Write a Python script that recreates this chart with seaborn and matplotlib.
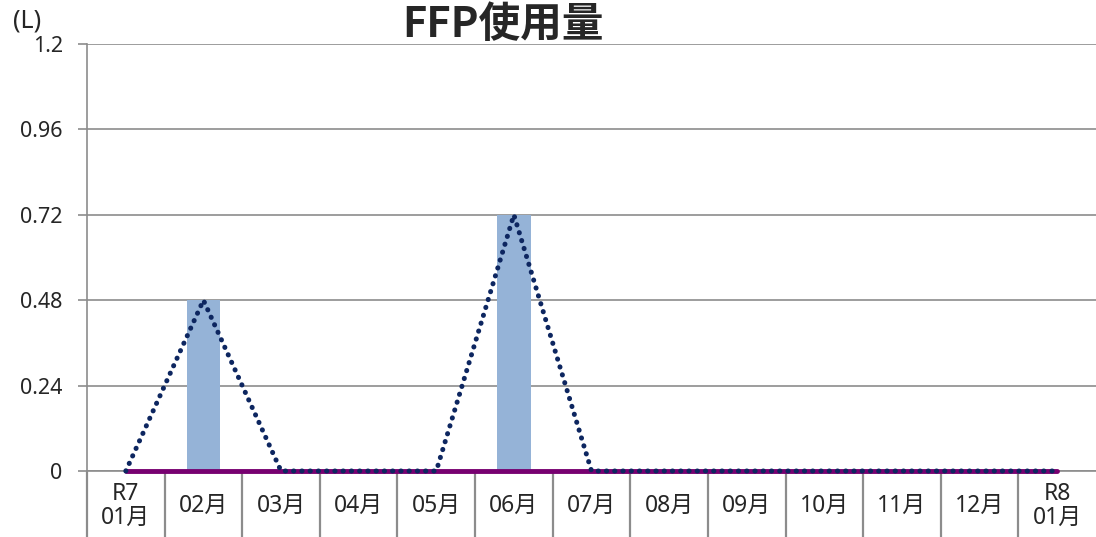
"""
FFP使用量 chart (bar + dotted trend line + zero line)
"""

import matplotlib
matplotlib.use("Agg")
import matplotlib.pyplot as plt
import seaborn as sns
import pandas as pd
import numpy as np

# Data
months = ["R7\n01月", "02月", "03月", "04月", "05月", "06月", "07月",
          "08月", "09月", "10月", "11月", "12月", "R8\n01月"]
usage = [0, 0.48, 0, 0, 0, 0.72, 0, 0, 0, 0, 0, 0, 0]
waste = [0, 0, 0, 0, 0, 0, 0, 0, 0, 0, 0, 0, 0]
yticks = [0, 0.24, 0.48, 0.72, 0.96, 1.2]
ytick_labels = ["0", "0.24", "0.48", "0.72", "0.96", "1.2"]

sns.set_style("white")
plt.rcParams['font.family'] = ['Noto Sans', 'Noto Sans CJK JP', 'DejaVu Sans']
plt.rcParams['font.size'] = 15.5

df = pd.DataFrame({'month': months, 'usage': usage, 'waste': waste})
df['pos'] = np.arange(len(df))

fig = plt.figure(figsize=(10.96, 5.37), dpi=100)
ax = fig.add_axes([87 / 1096, 66 / 537, 1009 / 1096, 427 / 537])

grid_color = '#8C8C8C'

# Bars
sns.barplot(data=df, x='month', y='usage', color='#95B3D7', saturation=1,
            width=0.43, linewidth=0, ax=ax, zorder=2)

# Zero line (purple)
sns.lineplot(data=df, x='pos', y='waste', color='#770070', linewidth=3.5,
             clip_on=False, ax=ax, zorder=3)

# Dotted trend line
sns.lineplot(data=df, x='pos', y='usage', color='#0D2660', linewidth=3.6,
             linestyle=(0, (0.05, 1.6)), dash_capstyle='round',
             clip_on=False, ax=ax, zorder=4)

ax.set_xlim(-0.5, len(months) - 0.5)
ax.set_ylim(0, 1.2)
ax.set_yticks(yticks)
ax.set_yticklabels(ytick_labels)
ax.set_xlabel('')
ax.set_ylabel('')

# Grid
ax.yaxis.grid(True, color=grid_color, linewidth=1.2, zorder=0)
ax.set_axisbelow(True)

for side in ['top', 'right']:
    ax.spines[side].set_visible(False)
ax.spines['left'].set_color(grid_color)
ax.spines['left'].set_linewidth(1.2)
ax.spines['bottom'].set_color(grid_color)
ax.spines['bottom'].set_linewidth(1.2)

ax.tick_params(axis='y', left=True, length=6.5, width=1.2, color=grid_color,
               pad=11)

# Category separators below the axis
ax.set_xticks(np.arange(-0.5, len(months) - 0.5, 1), minor=True)
ax.tick_params(axis='x', which='minor', bottom=True, length=48, width=1.6,
               color=grid_color)
ax.tick_params(axis='x', which='major', bottom=True, length=0, pad=25,
               labelsize=16.5)
for lbl in ax.get_xticklabels():
    lbl.set_va('center')
    lbl.set_linespacing(1.0)

# Title and unit
fig.text(503 / 1096, 1 - 25 / 537, 'FFP使用量', ha='center', va='center',
         fontsize=30, fontweight='bold', family=['Noto Sans CJK JP'])
fig.text(27 / 1096, 1 - 21 / 537, '(L)', ha='center', va='center', fontsize=18)

fig.savefig('out.png', dpi=100)
